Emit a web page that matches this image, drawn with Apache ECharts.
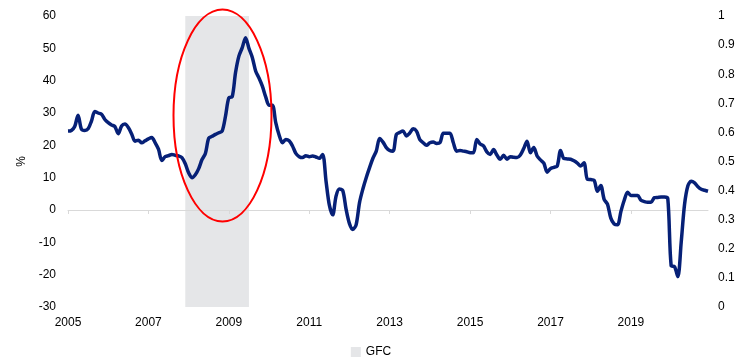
<!DOCTYPE html>
<html>
<head>
<meta charset="utf-8">
<script src="https://cdn.jsdelivr.net/npm/echarts@6/dist/echarts.min.js"></script>
<style>
html,body{margin:0;padding:0;background:#fff;}
#c{width:742px;height:360px;}
</style>
</head>
<body>
<div id="c"></div>
<script>
// Monthly categories Jan 2005 .. Dec 2020
var startYear = 2005, endYear = 2020;
var months = [];
for (var y = startYear; y <= endYear; y++) {
  for (var m = 1; m <= 12; m++) months.push(y + '-' + (m < 10 ? '0' + m : m));
}

// Main series (%), one value per month
var seriesValues = [
  24.4,24.6,25.8,29.3,25.0,24.6,25.1,27.5,30.5,30.0,29.6,28.0,
  27.0,26.3,25.8,23.6,26.0,26.6,25.5,23.5,21.3,21.6,20.8,21.4,
  22.0,22.4,20.8,18.8,15.3,16.5,16.8,17.2,16.9,16.7,16.2,14.3,
  11.5,10.0,10.9,12.8,15.6,17.5,22.2,22.8,23.4,23.9,24.4,29.0,
  34.7,35.0,42.5,47.6,50.2,53.3,50.0,47.2,43.0,40.8,38.3,35.0,
  32.4,32.4,27.0,23.2,20.8,21.8,21.4,19.8,17.5,16.5,16.2,16.8,
  16.5,16.7,16.4,16.0,17.2,9.0,1.5,-1.5,4.3,6.5,6.0,0.2,
  -4.2,-6.0,-4.5,2.3,6.5,10.0,13.1,16.0,18.2,22.1,21.0,19.3,
  18.4,18.2,23.4,24.0,24.4,22.9,23.8,25.1,24.4,21.8,20.8,20.0,
  20.8,21.0,20.6,20.8,23.7,23.7,23.7,20.8,18.2,18.4,18.2,18.0,
  17.7,17.7,21.8,20.4,19.8,18.0,17.2,18.7,17.0,15.7,16.9,15.7,
  16.5,16.3,16.2,17.0,19.0,21.3,17.7,19.3,16.7,15.5,14.5,11.7,
  12.8,13.2,13.6,18.4,15.9,15.8,15.7,15.2,14.5,13.6,14.6,9.5,
  9.4,9.2,5.8,7.6,3.3,1.8,-2.5,-4.3,-4.6,-0.5,3.0,5.5,
  4.5,4.5,4.5,3.0,2.6,2.4,2.4,3.8,3.9,4.0,4.0,3.5,
  -17.2,-17.5,-20.6,-10.0,1.7,7.5,8.9,8.4,7.2,6.4,6.1,5.8
];

// GFC period (Dec 2007 .. Jul 2009), shaded band
var gfcStart = '2007-12', gfcEnd = '2009-07';

var leftTicks = { min: -30, max: 60, interval: 10 };
var rightTicks = { min: 0, max: 1, interval: 0.1 };

var FONT = 'Liberation Sans';
var GFC_COLOR = '#e5e6e8';
var chart = echarts.init(document.getElementById('c'), null, { renderer: 'canvas' });
chart.setOption({
  animation: false,
  backgroundColor: '#ffffff',
  textStyle: { fontFamily: FONT },
  grid: { left: 68, right: 34, top: 16, bottom: 53, containLabel: false, outerBoundsMode: 'none' },
  legend: {
    data: ['GFC'],
    bottom: -3,
    left: 'center',
    icon: 'rect',
    itemWidth: 10,
    itemHeight: 10,
    itemGap: 4,
    textStyle: { fontFamily: FONT, fontSize: 12, color: '#000' }
  },
  xAxis: {
    type: 'category',
    data: months,
    boundaryGap: false,
    axisLine: { onZero: true, onZeroAxisIndex: 0, lineStyle: { color: '#d9d9d9', width: 1 } },
    axisTick: { show: true, interval: 23, length: 4, lineStyle: { color: '#d9d9d9' } },
    axisLabel: {
      interval: 23,
      margin: 10,
      color: '#000',
      fontFamily: FONT,
      fontSize: 12,
      formatter: function (v) { return v.slice(0, 4); }
    },
    splitLine: { show: false }
  },
  yAxis: [
    {
      type: 'value',
      min: leftTicks.min, max: leftTicks.max, interval: leftTicks.interval,
      name: '%',
      nameLocation: 'middle',
      nameGap: 35,
      nameTextStyle: { fontFamily: FONT, fontSize: 12, color: '#000' },
      axisLine: { show: false },
      axisTick: { show: false },
      splitLine: { show: false },
      axisLabel: { color: '#000', fontFamily: FONT, fontSize: 12, margin: 12 }
    },
    {
      type: 'value',
      position: 'right',
      min: rightTicks.min, max: rightTicks.max, interval: rightTicks.interval,
      axisLine: { show: false },
      axisTick: { show: false },
      splitLine: { show: false },
      axisLabel: {
        color: '#000', fontFamily: FONT, fontSize: 12, margin: 10,
        formatter: function (v) { return String(Math.round(v * 10) / 10); }
      }
    }
  ],
  series: [
    {
      name: 'GFC',
      type: 'line',
      yAxisIndex: 1,
      data: [],
      symbol: 'rect',
      itemStyle: { color: GFC_COLOR },
      lineStyle: { color: GFC_COLOR },
      z: 1
    },
    {
      name: 'Series',
      type: 'line',
      yAxisIndex: 0,
      data: seriesValues,
      smooth: 0.3,
      symbol: 'none',
      lineStyle: { color: '#062077', width: 3.5 },
      markArea: {
        silent: true,
        z: 0,
        itemStyle: { color: GFC_COLOR, opacity: 1 },
        data: [[{ xAxis: gfcStart }, { xAxis: gfcEnd }]]
      },
      z: 3
    }
  ],
  graphic: [
    {
      type: 'ellipse',
      shape: { cx: 222.5, cy: 115.5, rx: 49, ry: 106 },
      style: { fill: null, stroke: '#ff0000', lineWidth: 2 },
      z: 10
    }
  ]
});
</script>
</body>
</html>
